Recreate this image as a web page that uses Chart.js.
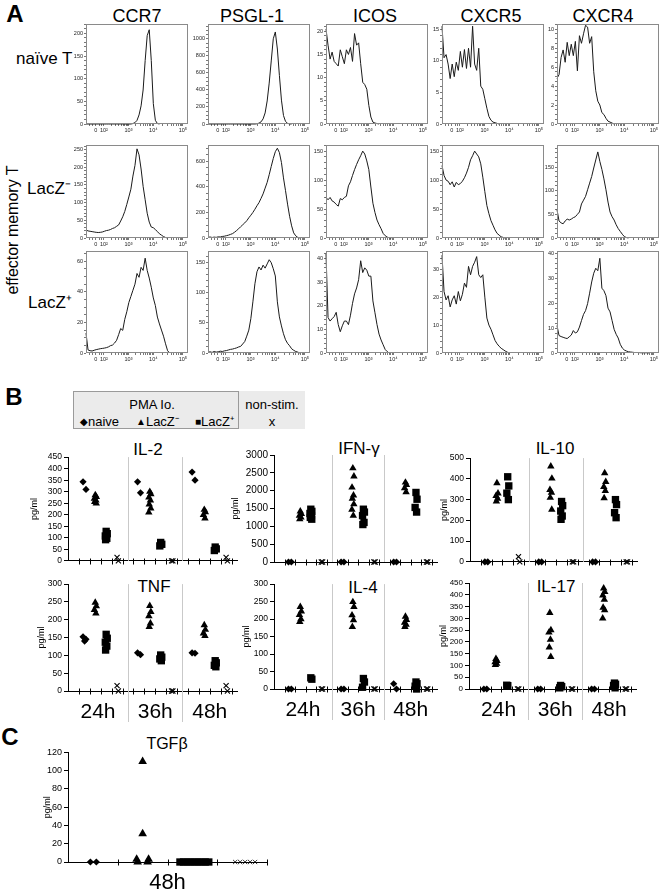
<!DOCTYPE html>
<html><head><meta charset="utf-8">
<script src="https://cdn.jsdelivr.net/npm/chart.js"></script>
<style>
html,body{margin:0;padding:0;background:#fff}
body{position:relative;width:661px;height:893px;overflow:hidden;font-family:'Liberation Sans',Arial,sans-serif;color:#000}
.t{position:absolute;white-space:nowrap;line-height:1;transform:translate(-50%,-50%)}
.l{position:absolute;white-space:nowrap;line-height:1;transform:translate(0,-50%)}
canvas{position:absolute}
.sym{font-size:10px;vertical-align:1px}
</style></head><body>
<div class="t" style="left:15px;top:14px;font-size:24px;font-weight:bold">A</div>
<div class="t" style="left:137px;top:16px;font-size:18px">CCR7</div>
<div class="t" style="left:252px;top:16px;font-size:18px">PSGL-1</div>
<div class="t" style="left:375px;top:16px;font-size:18px">ICOS</div>
<div class="t" style="left:491px;top:16px;font-size:18px">CXCR5</div>
<div class="t" style="left:603px;top:16px;font-size:18px">CXCR4</div>
<div class="l" style="left:16px;top:58px;font-size:17px">naïve T</div>
<div class="l" style="left:27px;top:188px;font-size:17px">LacZ⁻</div>
<div class="l" style="left:28px;top:302px;font-size:17px">LacZ⁺</div>
<div class="t" style="left:13px;top:230px;font-size:16px;transform:translate(-50%,-50%) rotate(-90deg)">effector memory T</div>

<div class="t" style="left:14px;top:397px;font-size:24px;font-weight:bold">B</div>
<div style="position:absolute;left:73px;top:391px;width:232px;height:38px;background:#ebebeb"></div>
<div style="position:absolute;left:73px;top:391px;width:166px;height:38px;border:1px solid #9a9a9a;box-sizing:border-box"></div>
<div class="t" style="left:152px;top:404px;font-size:13px">PMA Io.</div>
<div class="l" style="left:80px;top:421px;font-size:13px"><span class="sym">◆</span>naive</div>
<div class="l" style="left:136px;top:421px;font-size:13px"><span class="sym">▲</span>LacZ⁻</div>
<div class="l" style="left:195px;top:421px;font-size:13px"><span class="sym">■</span>LacZ⁺</div>
<div class="t" style="left:272px;top:404px;font-size:13px">non-stim.</div>
<div class="t" style="left:272px;top:421px;font-size:13px">x</div>
<div class="t" style="left:148px;top:449px;font-size:17px">IL-2</div>
<div class="t" style="left:359px;top:448px;font-size:17px">IFN-γ</div>
<div class="t" style="left:555px;top:448px;font-size:17px">IL-10</div>
<div class="t" style="left:154px;top:586px;font-size:17px">TNF</div>
<div class="t" style="left:363px;top:587px;font-size:17px">IL-4</div>
<div class="t" style="left:556px;top:586px;font-size:17px">IL-17</div>

<div class="t" style="left:10px;top:737px;font-size:24px;font-weight:bold">C</div>
<div class="t" style="left:167px;top:744px;font-size:16px">TGFβ</div>

<script>
// ---------- Panel A: histogram data (counts per display-channel bin) ----------
const histBins = Array.from({length: 51}, (_, i) => i * 20);
const xMajorTicks = [97, 175, 417, 660, 950];
const xMajorLabels = ['0', '10²', '10³', '10⁴', '10⁵'];

const ccr7Naive = [0,0,0,0,0,0,0,0,0,0,0,0,0,0,0,0,0,0,0,0,0,0,0,1,3,8,20,40,75,140,195,208,140,45,8,1,0];
const psglNaive = [0,0,0,0,0,0,0,0,0,0,0,0,0,0,0,0,0,0,0,0,0,0,0,0,3,10,25,60,130,270,480,740,1000,1080,880,570,280,100,30,8,1,0];
const icosNaive = [20.5,17,14,15.5,13.5,13,12.5,16,14.5,13,16,15,16.5,13.5,19.5,17,17.5,13,9,8.5,7.5,4,1.5,0.4,0.2,0.1,0];
const cxcr5Naive = [15.5,10.5,11,9.5,7.2,9.5,7.5,9.8,8.5,11.5,9,11.8,8.8,12,9,15.5,9.5,8.5,12,6,5.5,4,2.5,1.2,0.6,0.3,0.2,0.1,0];
const cxcr4Naive = [4.8,5.2,7,7.8,6.5,8.6,7.2,8.4,7.2,8.7,5.6,9.3,8.5,9.5,10.4,10.2,8.5,9.2,5.5,3.5,2.4,2,1.2,1,0.6,0.3,0.2,0.1,0];

const ccr7Neg = [23,20,19,18,17,16,15.5,16,17,19,21,22,24,27,29,33,37,48,60,75,95,116,138,175,205,252,235,195,146,108,70,45,31,29,24,18,12,8,4,1.5,0];
const psglNeg = [5,8,4,7,5,9,8,12,14,18,22,28,34,45,58,72,88,103,118,135,158,178,200,225,252,277,310,345,390,435,495,560,622,675,702,668,590,470,370,265,170,95,40,17,5,0];
const icosNeg = [70,66,70,64,62,58,55,68,66,70,72,90,97,108,118,127,135,142,150,145,133,118,88,60,44,31,23,16,8,4,1.5,0.5,0];
const cxcr5Neg = [125,108,100,98,92,97,88,96,92,94,98,104,112,122,135,142,150,145,140,128,105,80,56,42,30,22,14,8,5,2,1,0];
const cxcr4Neg = [60,36,32,30,36,40,38,40,43,45,50,55,72,80,88,102,116,130,148,165,182,162,145,125,102,76,55,45,38,28,20,14,8,3,1,0];

const ccr7Pos = [13,2,1.5,1.3,1.8,2.2,2.5,2.8,3,3.2,3.5,4,4.8,5.2,6.5,8.3,12,16,14.8,22,27,33,37,41,45,52,49.5,56,54,62,54,49,43,36,31,23.5,19,15,11,6,1.5,0];
const psglPos = [1,2,1,2.5,1.5,2,3,2.5,3.5,4,5,6,6.5,7.5,8.5,10,11,15,19,28,38,57,85,115,135,143,138,146,141,148,155,150,140,128,85,60,45,32,22,16,12,7,4.5,2.5,1.5,0];
const icosPos = [42,15,13.5,14.5,15.4,17.2,12,9,11.5,13.5,13.5,12,16,21,25,27.5,31,39,34,36,35,32.5,32.5,22,17,12,8,5.5,3.5,1.5,0.6,0];
const cxcr5Pos = [35,22,19,20.5,16.5,19,20.5,17.5,22,18.7,21,25,23.5,31,28,31,32.5,34.5,28,27,28,20,12.5,10,8.5,6.5,4.5,3.3,2.4,1.7,1.2,0.7,0.3,0];
const cxcr4Pos = [11,7,6.6,6.3,6,5.8,6.5,7.2,9,8,8.5,10.4,13,15.5,17,19.8,24,28.5,32,34,33,38,26,25,23,18,16.5,13,9.5,7.5,6,3.5,2,1.2,0.8,0.5,0.4,0.3,0.2,0.2,0.2,0.1,0.1,0.1,0.1,0];

// ---------- Panel B: cytokines (pg/ml), per time point [24h, 36h, 48h] ----------
const timeLabels = ['24h', '36h', '48h'];

const il2Naive = [[343,310],[343,295],[385,350]];
const il2LacZneg = [[285,278,270,263,256,250],[300,290,275,262,245,228,210],[222,212,200,185]];
const il2LacZpos = [[128,118,108,98,92],[80,72,65],[60,52,45]];
const il2NonStim = [[15,0],[0,0],[15,0]];

const ifnNaive = [[0,0],[0,0],[0,0]];
const ifnLacZneg = [[1420,1350,1300,1250,1200],[2630,2400,2090,1870,1780,1620,1470,1300],[2230,2160,2070,1960]];
const ifnLacZpos = [[1480,1420,1360,1300,1250,1200],[1480,1400,1300,1110,1050],[1950,1760,1530,1400]];
const ifnNonStim = [[0,0],[0,0],[0,0]];

const il10Naive = [[0,0],[0,0],[0,0]];
const il10LacZneg = [[380,330,318,305,292],[460,402,347,334,310,252],[428,386,362,342,307]];
const il10LacZpos = [[410,366,331,300],[291,271,245,221,205],[300,276,237,213]];
const il10NonStim = [[25,0],[0,0],[0,0]];

const tnfNaive = [[152,145,140],[107,102],[107,106]];
const tnfLacZneg = [[248,238,228,218],[239,222,210,190,180],[185,172,162,155]];
const tnfLacZpos = [[159,148,137,126,115],[101,95,90,85],[85,79,72,68]];
const tnfNonStim = [[15,0],[0,0],[15,0]];

const il4Naive = [[0,0],[0,0],[15,0]];
const il4LacZneg = [[235,222,212,200,192],[249,235,211,197,178],[207,198,190,184,178]];
const il4LacZpos = [[32,28],[30,20,5],[20,15,8,0]];
const il4NonStim = [[0,0],[0,0],[0,0]];

const il17Naive = [[0,0],[0,0],[0,0]];
const il17LacZneg = [[128,120,114,108,103],[323,250,240,210,177,137],[427,412,398,380,346,335,300]];
const il17LacZpos = [[16,14],[15,10,5],[25,20,15,5]];
const il17NonStim = [[0,0],[0,0],[0,0]];

// ---------- Panel C: TGF-beta at 48h ----------
const tgfNaive = [0,0];
const tgfLacZneg = [110,31,3,3,0,0];
const tgfLacZpos = [0,0,0,0,0,0,0,0,0];
const tgfNonStim = [0,0,0,0,0];

// ---------- helpers ----------
Chart.defaults.font.family = "'Liberation Sans', Arial, sans-serif";
Chart.defaults.color = '#000';

const boxPlugin = {
  id: 'box',
  afterDraw(chart, args, opts) {
    const a = chart.chartArea, c = chart.ctx;
    c.save(); c.strokeStyle = opts.color || '#888'; c.lineWidth = 1;
    c.strokeRect(Math.round(a.left) + 0.5, Math.round(a.top) + 0.5, Math.round(a.right - a.left) - 1, Math.round(a.bottom - a.top) - 1);
    c.restore();
  }
};
const cytoPlugin = {
  id: 'cyto',
  beforeDatasetsDraw(chart, args, o) {
    const ctx = chart.ctx, xs = chart.scales.x, ys = chart.scales.y, a = chart.chartArea;
    ctx.save(); ctx.lineWidth = 1; ctx.strokeStyle = '#c9c9c9';
    (o.seps || []).forEach(v => {
      const px = Math.round(xs.getPixelForValue(v)) + 0.5;
      ctx.beginPath(); ctx.moveTo(px, a.top); ctx.lineTo(px, a.bottom + (o.sepExtra || 0)); ctx.stroke();
    });
    ctx.strokeStyle = '#000';
    const y0 = Math.round(ys.getPixelForValue(0)) + 0.5;
    (o.ticks || []).forEach(v => {
      const px = Math.round(xs.getPixelForValue(v)) + 0.5;
      ctx.beginPath(); ctx.moveTo(px, y0 - 3); ctx.lineTo(px, y0 + 3); ctx.stroke();
    });
    ctx.restore();
  }
};

function addCanvas(x, y, w, h) {
  const c = document.createElement('canvas');
  c.width = w; c.height = h;
  c.style.left = x + 'px'; c.style.top = y + 'px';
  c.style.width = w + 'px'; c.style.height = h + 'px';
  document.body.appendChild(c);
  return c;
}

// x ticks for the flow axes (majors + decade minors)
const xFlowTicks = [30, 60, 130, 150].concat(xMajorTicks);
[[175, 417], [417, 660], [660, 950]].forEach(([a, b]) => {
  for (let k = 2; k <= 9; k++) xFlowTicks.push(a + (b - a) * Math.log10(k));
});
xFlowTicks.sort((p, q) => p - q);

const histCols = [86, 208, 326, 442, 557];
const histW = 102;
const histRows = [[24, 124], [145, 238], [251, 353]];

function histogram(col, row, values, yMax, yStep, yMinor) {
  const L = histCols[col], R = L + histW, T = histRows[row][0], B = histRows[row][1];
  const pl = 20, pt = 4, pr = 6, pb = 12;
  const cv = addCanvas(L - pl, T - pt, R - L + pl + pr, B - T + pt + pb);
  const pts = values.map((v, i) => ({x: histBins[i], y: v}));
  new Chart(cv, {
    type: 'line',
    data: {datasets: [{data: pts, borderColor: '#1a1a1a', borderWidth: 1, pointRadius: 0, tension: 0, fill: false, clip: false}]},
    options: {
      responsive: false, animation: false, devicePixelRatio: 1, events: [],
      layout: {padding: {left: 0, top: pt, right: pr, bottom: 0}},
      plugins: {legend: {display: false}, tooltip: {enabled: false}, box: {color: '#8a8a8a'}},
      scales: {
        x: {
          type: 'linear', min: 0, max: 1000,
          afterBuildTicks: s => { s.ticks = xFlowTicks.map(v => ({value: v})); },
          afterFit: s => { s.height = pb; },
          ticks: {autoSkip: false, maxRotation: 0, padding: 1, font: {size: 5.5}, color: '#222',
            callback: v => { const i = xMajorTicks.indexOf(v); return i >= 0 ? xMajorLabels[i] : ''; }},
          grid: {drawOnChartArea: false, tickLength: 2, tickColor: '#555', tickWidth: 0.8},
          border: {display: false}
        },
        y: {
          type: 'linear', min: 0, max: yMax,
          afterBuildTicks: s => {
            const t = [];
            for (let i = 0; i * yMinor <= yMax + 1e-9; i++) t.push({value: Math.round(i * yMinor * 1000) / 1000});
            s.ticks = t;
          },
          afterFit: s => { s.width = pl; },
          ticks: {autoSkip: false, padding: 1, font: {size: 5.5}, color: '#222',
            callback: v => (Math.abs(v / yStep - Math.round(v / yStep)) < 1e-6 ? String(v) : '')},
          grid: {drawOnChartArea: false, tickLength: 2, tickColor: '#555', tickWidth: 0.8},
          border: {display: false}
        }
      }
    },
    plugins: [boxPlugin]
  });
}

histogram(0, 0, ccr7Naive, 220, 50, 10);
histogram(1, 0, psglNaive, 1170, 200, 50);
histogram(2, 0, icosNaive, 21.5, 5, 1);
histogram(3, 0, cxcr5Naive, 15.8, 5, 1);
histogram(4, 0, cxcr4Naive, 10.5, 2, 0.5);
histogram(0, 1, ccr7Neg, 262, 50, 10);
histogram(1, 1, psglNeg, 725, 200, 50);
histogram(2, 1, icosNeg, 160, 50, 10);
histogram(3, 1, cxcr5Neg, 160, 50, 10);
histogram(4, 1, cxcr4Neg, 196, 50, 10);
histogram(0, 2, ccr7Pos, 66.5, 20, 5);
histogram(1, 2, psglPos, 169, 50, 10);
histogram(2, 2, icosPos, 43, 10, 2);
histogram(3, 2, cxcr5Pos, 36.4, 10, 2);
histogram(4, 2, cxcr4Pos, 40.8, 10, 2);

// ---------- scatter (cytokine) charts ----------
const groupStart = [0, 5, 10];
const slotNaive = 1.5, slotNeg = 2.5, slotPos = 3.5, slotNs = 4.5;
const jitNaive = [-0.12, 0.15, 0.02];
const jitOther = [0, 0.1, -0.08, 0.06, -0.05, 0.09, -0.09, 0.04];

function groupPoints(groups, slot, offs) {
  const pts = [];
  groups.forEach((vals, g) => vals.forEach((v, i) => pts.push({x: groupStart[g] + slot + offs[i % offs.length], y: v})));
  return pts;
}

const styleNaive = {pointStyle: 'rectRot', pointRadius: 3.6, backgroundColor: '#000', borderColor: '#000', borderWidth: 0};
const styleNeg = {pointStyle: 'triangle', pointRadius: 4.3, backgroundColor: '#000', borderColor: '#000', borderWidth: 0};
const stylePos = {pointStyle: 'rect', pointRadius: 5.2, backgroundColor: '#000', borderColor: '#000', borderWidth: 0};
const styleNs = {pointStyle: 'crossRot', pointRadius: 3.6, backgroundColor: '#000', borderColor: '#000', borderWidth: 1.1};

function scatterChart(o) {
  const pt = 7, pr = 8, xh = 5, th = o.timeAxis ? o.timeH : 0;
  const cv = addCanvas(o.L - o.padL, o.T - pt, o.R - o.L + o.padL + pr, o.B - o.T + pt + xh + th);
  const scales = {
    x: {type: 'linear', min: 0, max: o.xMax, weight: 0,
      ticks: {display: false}, grid: {display: false, drawTicks: false, tickLength: 0},
      border: {display: true, color: '#000', width: 1},
      afterFit: s => { s.height = xh; }},
    y: {type: 'linear', min: 0, max: o.yMax,
      afterBuildTicks: s => {
        const t = [];
        for (let v = 0; v <= o.yMax + 1e-9; v += o.yStep) t.push({value: v});
        s.ticks = t;
      },
      ticks: {autoSkip: false, font: {size: o.font}, padding: 2, color: '#000', callback: v => String(v)},
      grid: {drawOnChartArea: false, tickLength: 4, tickColor: '#000'},
      border: {color: '#000', width: 1},
      title: {display: true, text: 'pg/ml', font: {size: 9}, padding: 0},
      afterFit: s => { s.width = o.padL; }}
  };
  if (o.timeAxis) {
    scales.xt = {type: 'linear', position: 'bottom', min: 0, max: o.xMax, weight: 1,
      afterBuildTicks: s => { s.ticks = o.timeCenters.map(v => ({value: v})); },
      ticks: {autoSkip: false, maxRotation: 0, padding: o.timePad, font: {size: o.timeFont}, color: '#000',
        callback: (v, i) => o.timeText[i]},
      grid: {display: false, drawTicks: false, tickLength: 0}, border: {display: false},
      afterFit: s => { s.height = th; }};
  }
  new Chart(cv, {
    type: 'scatter',
    data: {datasets: o.datasets.map(d => Object.assign({clip: false}, d))},
    options: {
      responsive: false, animation: false, devicePixelRatio: 1, events: [],
      layout: {padding: {left: 0, top: pt, right: pr, bottom: 0}},
      plugins: {legend: {display: false}, tooltip: {enabled: false},
        cyto: {seps: o.seps, sepExtra: o.sepExtra, ticks: o.xTicks}},
      scales
    },
    plugins: [cytoPlugin]
  });
}

function cytokine(L, T, R, B, yMax, yStep, font, padL, naive, neg, pos, ns, timeAxis) {
  scatterChart({
    L, T, R, B, yMax, yStep, font, padL, xMax: 15.5, timeAxis,
    timeH: 32, timeFont: 21, timePad: 4, timeCenters: [2.75, 8, 13], timeText: timeLabels,
    seps: [5.5, 10.5], sepExtra: timeAxis ? 31 : 0,
    xTicks: [1,2,3,4,5,6,7,8,9,10,11,12,13,14,15],
    datasets: [
      Object.assign({data: groupPoints(naive, slotNaive, jitNaive)}, styleNaive),
      Object.assign({data: groupPoints(neg, slotNeg, jitOther)}, styleNeg),
      Object.assign({data: groupPoints(pos, slotPos, jitOther)}, stylePos),
      Object.assign({data: groupPoints(ns, slotNs, [0, 0.12])}, styleNs)
    ]
  });
}

cytokine(68, 457, 237, 563, 450, 50, 8.5, 39, il2Naive, il2LacZneg, il2LacZpos, il2NonStim, false);
cytokine(274, 454, 437, 565, 3000, 500, 10, 44, ifnNaive, ifnLacZneg, ifnLacZpos, ifnNonStim, false);
cytokine(470, 458, 637, 564, 500, 100, 8.5, 31, il10Naive, il10LacZneg, il10LacZpos, il10NonStim, false);
cytokine(68, 584, 237, 691, 300, 50, 8.5, 32, tnfNaive, tnfLacZneg, tnfLacZpos, tnfNonStim, true);
cytokine(274, 584, 437, 689, 300, 50, 8.5, 33, il4Naive, il4LacZneg, il4LacZpos, il4NonStim, true);
cytokine(469, 583, 636, 689, 450, 50, 8, 31, il17Naive, il17LacZneg, il17LacZpos, il17NonStim, true);

// Panel C
scatterChart({
  L: 68, T: 752, R: 267, B: 862, yMax: 120, yStep: 20, font: 9, padL: 26, xMax: 4,
  timeAxis: true, timeH: 30, timeFont: 22, timePad: 3, timeCenters: [2], timeText: ['48h'],
  seps: [], sepExtra: 0, xTicks: [1, 2, 3, 4],
  datasets: [
    Object.assign({data: tgfNaive.map((v, i) => ({x: 0.45 + i * 0.12, y: v}))}, styleNaive),
    Object.assign({data: tgfLacZneg.map((v, i) => ({x: [1.5, 1.5, 1.38, 1.62, 1.4, 1.6][i], y: v}))}, styleNeg, {pointRadius: 5}),
    Object.assign({data: tgfLacZpos.map((v, i) => ({x: 2.25 + i * 0.58 / (tgfLacZpos.length - 1), y: v}))}, stylePos),
    Object.assign({data: tgfNonStim.map((v, i) => ({x: 3.36 + i * 0.1, y: v}))}, styleNs, {pointRadius: 3, borderWidth: 0.8})
  ]
});
</script>
</body></html>
